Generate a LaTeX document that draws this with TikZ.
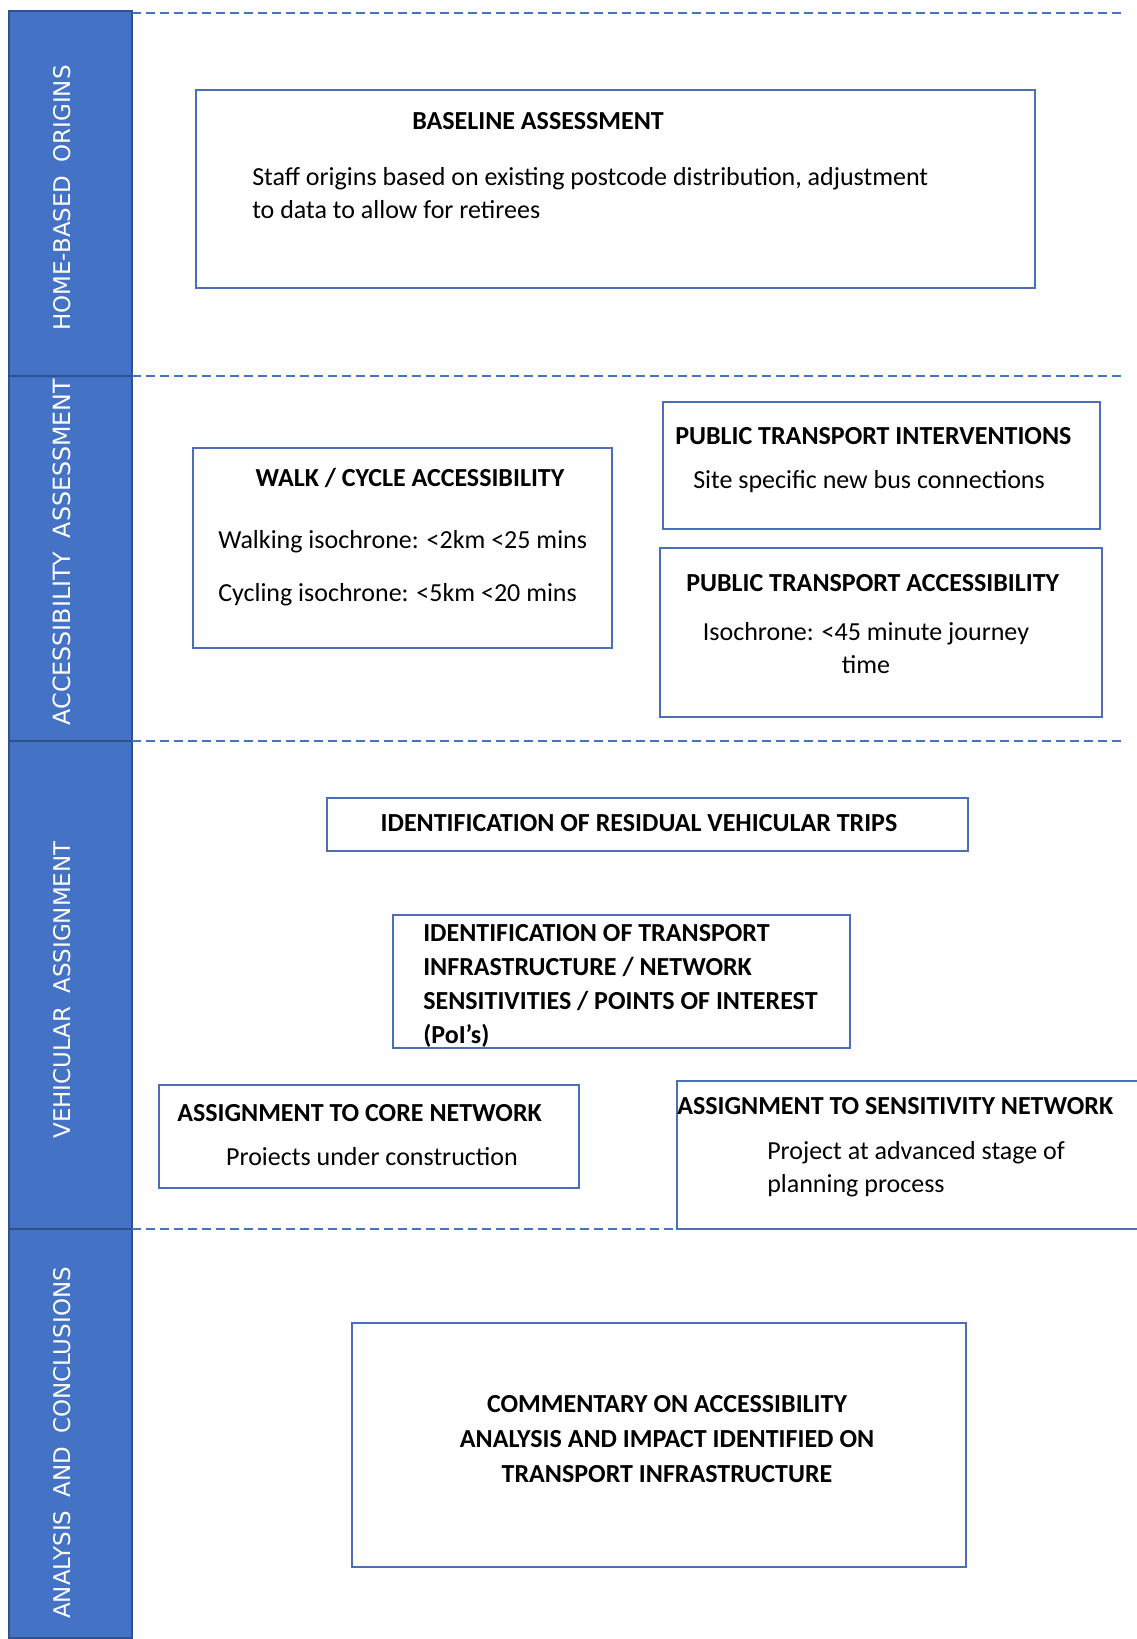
\documentclass[tikz,border=0pt]{standalone}
\usepackage{fontspec}
\setmainfont{Carlito}
\newfontfamily\sidefont[WordSpace=1.8]{DejaVu Sans}
\usetikzlibrary{fit}
\definecolor{obl}{HTML}{4472C4}
\definecolor{obd}{HTML}{2F528F}
\definecolor{boxc}{HTML}{4A6FB5}
\begin{document}
\begin{tikzpicture}[x=0.75pt,y=-0.75pt,
 band/.style={fill=obl,draw=obd,line width=1.1pt,inner sep=0pt},
 sidelabel/.style={rotate=90,text=white,font=\sidefont\fontsize{17.2}{20}\selectfont,inner sep=0pt},
 sepline/.style={draw=obl,dash pattern=on 7pt off 3.5pt,line width=0.9pt},
 box/.style={draw=boxc,line width=1.1pt,inner sep=0pt},
 ttl/.style={font=\bfseries\fontsize{19.5}{25}\selectfont,inner sep=0pt},
 bdy/.style={font=\fontsize{19.5}{24.75}\selectfont,inner sep=0pt},
]
\useasboundingbox (0,0) rectangle (1136,1639);
% sidebar bands
\node[band,fit={(9,11) (132,376)}] (b1) {};
\node[band,fit={(9,376) (132,741)}] (b2) {};
\node[band,fit={(9,741) (132,1229)}] (b3) {};
\node[band,fit={(9,1229) (132,1638)}] (b4) {};
\node[sidelabel] (l1) at (62,198) {HOME-BASED ORIGINS};
\node[sidelabel,font=\sidefont\fontsize{17.8}{20}\selectfont] (l2) at (62,552) {ACCESSIBILITY ASSESSMENT};
\node[sidelabel] (l3) at (62,990) {VEHICULAR ASSIGNMENT};
\node[sidelabel] (l4) at (62,1443) {ANALYSIS AND CONCLUSIONS};
% dashed separators
\draw[sepline] (132,13) -- (1123,13);
\draw[sepline] (132,376) -- (1123,376);
\draw[sepline] (132,741) -- (1123,741);
\draw[sepline] (132,1229) -- (1136,1229);
% boxes
\node[box,fit={(196,90) (1035,288)}] (base) {};
\node[box,fit={(193,448) (612,648)}] (walk) {};
\node[box,fit={(663,402) (1100,529)}] (pti) {};
\node[box,fit={(660,548) (1102,717)}] (pta) {};
\node[box,fit={(327,798) (968,851)}] (resid) {};
\node[box,fit={(393,915) (850,1048)}] (infra) {};
\node[box,fit={(159,1085) (579,1188)}] (core) {};
\node[box,fit={(677,1081) (1150,1229)}] (sens) {};
\node[box,fit={(352,1323) (966,1567)}] (comm) {};
% texts
\node[ttl,anchor=west] (baset) at (412,121) {BASELINE ASSESSMENT};
\node[bdy,anchor=west,align=left] (baseb) at (252,193) {Staff origins based on existing postcode distribution, adjustment\\to data to allow for retirees};
\node[ttl] (walkt) at (410,478) {WALK / CYCLE ACCESSIBILITY};
\node[bdy,anchor=west] (walkb1) at (218,542) {Walking isochrone: <2km <25 mins};
\node[bdy,anchor=west] (walkb2) at (218,595) {Cycling isochrone: <5km <20 mins};
\node[ttl,anchor=west] (ptit) at (675,436) {PUBLIC TRANSPORT INTERVENTIONS};
\node[bdy,anchor=west] (ptib) at (693,482) {Site specific new bus connections};
\node[ttl,anchor=west] (ptat) at (686,583) {PUBLIC TRANSPORT ACCESSIBILITY};
\node[bdy,align=center] (ptab) at (866,648) {Isochrone: <45 minute journey\\time};
\node[ttl] (residt) at (639,823) {IDENTIFICATION OF RESIDUAL VEHICULAR TRIPS};
\node[ttl,anchor=west,align=left,font=\bfseries\fontsize{19.5}{25.7}\selectfont] (infrat) at (423,986) {IDENTIFICATION OF TRANSPORT\\INFRASTRUCTURE / NETWORK\\SENSITIVITIES / POINTS OF INTEREST\\(PoI’s)};
\node[ttl,anchor=west] (coret) at (177,1113) {ASSIGNMENT TO CORE NETWORK};
\node[bdy] (coreb) at (372,1157) {Proiects under construction};
\node[ttl,anchor=west] (senst) at (677,1106) {ASSIGNMENT TO SENSITIVITY NETWORK};
\node[bdy,anchor=west,align=left] (sensb) at (767,1169) {Project at advanced stage of\\planning process};
\node[ttl,align=center,font=\bfseries\fontsize{19.5}{26}\selectfont] (commt) at (667,1439) {COMMENTARY ON ACCESSIBILITY\\ANALYSIS AND IMPACT IDENTIFIED ON\\TRANSPORT INFRASTRUCTURE};
\end{tikzpicture}
\end{document}
